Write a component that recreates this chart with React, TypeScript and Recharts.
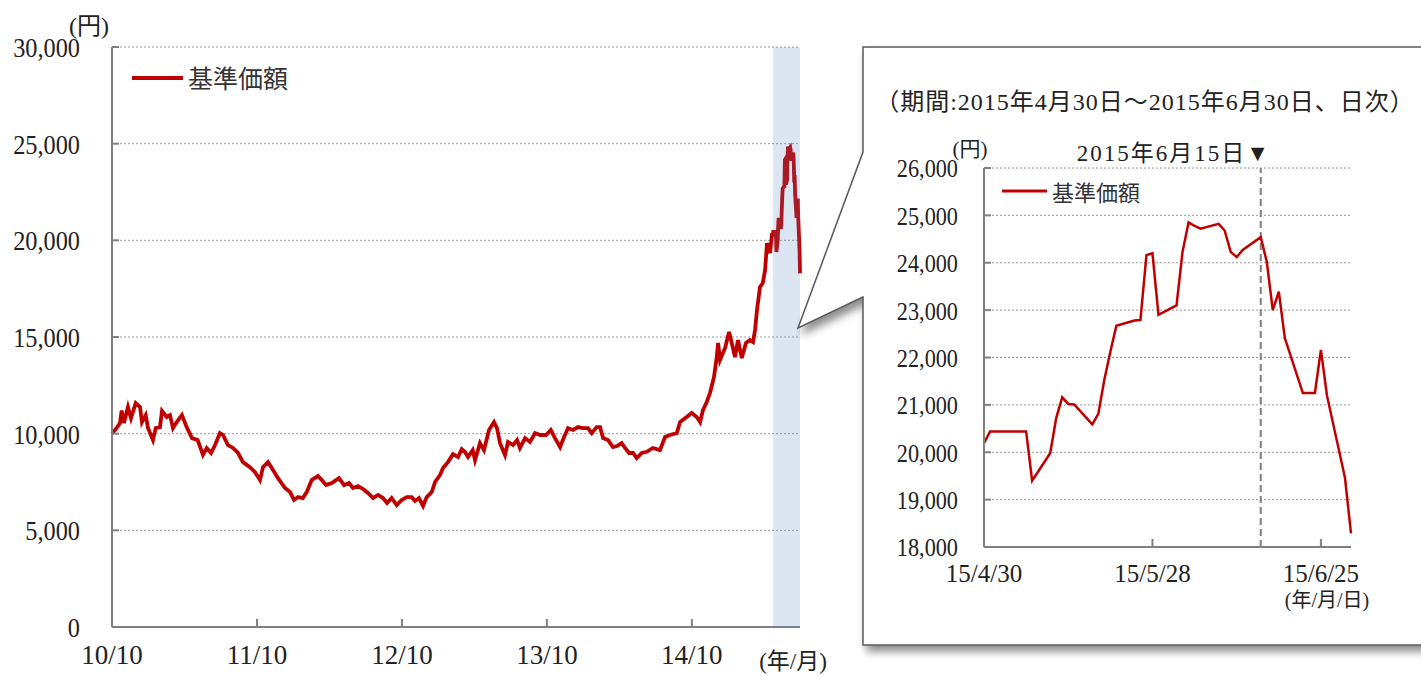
import React from 'react';
import {
  LineChart,
  Line,
  XAxis,
  YAxis,
  CartesianGrid,
  ReferenceArea,
  ReferenceLine,
  Legend,
} from 'recharts';

const SERIES_NAME = '基準価額';

// ---------- main chart (2010/10 - 2015/6), x = months since 2010/10 ----------
const mainTickMonths = [0, 12, 24, 36, 48];
const mainTickLabels = ['10/10', '11/10', '12/10', '13/10', '14/10'];
const mainYTicks = [0, 5000, 10000, 15000, 20000, 25000, 30000];

const mainMonths = [
  0, 0.39, 0.66, 0.8, 0.99, 1.32, 1.57, 1.96, 2.32, 2.48, 2.79, 2.98, 3.39, 3.62, 3.97, 4.14,
  4.53, 4.8, 5.05, 5.36, 5.79, 6.18, 6.62, 7.09, 7.53, 7.84, 8.2, 8.53, 8.94, 9.19, 9.6, 10.02,
  10.43, 10.84, 11.42, 11.84, 12.25, 12.5, 12.91, 13.33, 13.74, 14.32, 14.74, 15.07, 15.4, 15.79,
  16.12, 16.53, 17.05, 17.36, 17.72, 18.19, 18.79, 19.21, 19.62, 19.95, 20.36, 20.78, 21.19,
  21.61, 22.02, 22.43, 22.77, 23.15, 23.57, 23.98, 24.4, 24.81, 25.08, 25.41, 25.75, 26.05,
  26.47, 26.74, 27.15, 27.4, 27.81, 28.23, 28.64, 28.95, 29.22, 29.47, 29.86, 30.05, 30.46,
  30.79, 31.21, 31.62, 31.87, 32.12, 32.53, 32.78, 33.2, 33.53, 33.77, 34.19, 34.6, 35.02,
  35.43, 35.93, 36.32, 36.67, 37.09, 37.42, 37.75, 38.16, 38.58, 38.99, 39.4, 39.71, 40.12,
  40.4, 40.65, 41.06, 41.47, 41.8, 42.19, 42.47, 42.8, 43.13, 43.43, 43.85, 44.26, 44.78,
  45.36, 45.78, 46.19, 46.75, 47.02, 47.57, 47.99, 48.4, 48.68, 48.92, 49.23, 49.5, 49.83,
  50.06, 50.17, 50.33, 50.75, 51.08, 51.38, 51.57, 51.82, 52.13, 52.48, 52.81, 53.06, 53.23,
  53.39, 53.64, 53.87, 54.06, 54.22, 54.47, 54.64,
];
const mainValues = [
  10000, 10300, 10550, 11200, 10550, 11380, 10800, 11580, 11380, 10600, 10960, 10290, 9670,
  10290, 10340, 11170, 10860, 10960, 10290, 10600, 10960, 10340, 9770, 9670, 8900, 9260, 9000,
  9410, 10030, 9930, 9410, 9260, 9000, 8530, 8270, 8010, 7600, 8270, 8530, 8120, 7700, 7190,
  6980, 6570, 6720, 6670, 6980, 7600, 7810, 7600, 7340, 7450, 7700, 7340, 7450, 7190, 7290,
  7140, 6930, 6670, 6830, 6670, 6410, 6670, 6310, 6570, 6720, 6720, 6520, 6670, 6260, 6720,
  6980, 7500, 7860, 8220, 8530, 8940, 8790, 9200, 9050, 8790, 9150, 8630, 9510, 9150, 10190,
  10600, 10290, 9510, 8890, 9570, 9410, 9670, 9260, 9770, 9570, 10030, 9930, 9930, 10190, 9770,
  9310, 9830, 10290, 10190, 10340, 10290, 10290, 10030, 10340, 10340, 9770, 9670, 9310, 9360,
  9510, 9260, 9000, 9000, 8740, 9000, 9060, 9260, 9150, 9830, 9930, 10030, 10600, 10860, 11070,
  10860, 10600, 11220, 11640, 12100, 12930, 13960, 14690, 13810, 14430, 15260, 14480, 13960,
  14840, 13910, 14690, 14840, 14740, 15360, 16400, 17590, 17790, 18460, 19860, 19340, 20370,
];

// highlighted period (2015/4/30 - 2015/6/30) in months since 2010/10
const periodStartMonth = 54.7;
const periodEndMonth = 56.95;

// ---------- inset chart (daily), x = calendar days since 2015/4/30 ----------
const insetSpanDays = 61;
const insetDays = [
  0, 1, 7, 8, 11, 12, 13, 14, 15, 18, 19, 20, 21, 22, 25, 26, 27, 28, 29, 32, 33, 34, 35, 36,
  39, 40, 41, 42, 43, 46, 47, 48, 49, 50, 53, 54, 55, 56, 57, 60, 61,
];
const insetValues = [
  20190, 20440, 20440, 19400, 19980, 20720, 21160, 21020, 21010, 20590, 20810, 21530, 22120,
  22670, 22780, 22790, 24160, 24200, 22900, 23100, 24230, 24850, 24780, 24720, 24820, 24680,
  24230, 24120, 24270, 24540, 24020, 23000, 23390, 22410, 21250, 21250, 21250, 22160, 21200,
  19460, 18290,
];
const insetTickDays = [0, 28, 56];
const insetTickLabels = ['15/4/30', '15/5/28', '15/6/25'];
const insetYTicks = [18000, 19000, 20000, 21000, 22000, 23000, 24000, 25000, 26000];
const insetMarkerDay = 46;

// ---------- derived tables ----------
const mainData = mainMonths
  .map((m, i) => ({ m, v: mainValues[i] }))
  .concat(
    insetDays.map((d, i) => ({
      m: periodStartMonth + (d * (periodEndMonth - periodStartMonth)) / insetSpanDays,
      v: insetValues[i],
    }))
  );
const insetData = insetDays.map((d, i) => ({ d, v: insetValues[i] }));

// ---------- styles ----------
const RED = '#C00000';
const AXIS = '#808080';
const GRID = '#9a9a9a';
const TEXT = '#222222';
const FONT = "'Liberation Serif', 'Noto Sans CJK JP', serif";
const CJK = "'Noto Sans CJK JP', sans-serif";

function makeYTick(offset: number, fontSize: number, sx: number, skip: number) {
  return (props: any) => {
    const { x, y, payload } = props;
    const label = Number(payload.value).toLocaleString('en-US');
    return (
      <g>
        {payload.value !== skip && (
          <line x1={x} x2={x + 7} y1={y} y2={y} stroke={AXIS} strokeWidth={2} />
        )}
        <text
          transform={`translate(${x - offset},${y + 1}) scale(${sx},1)`}
          textAnchor="end"
          dominantBaseline="central"
          fontSize={fontSize}
          fontFamily={FONT}
          fill={TEXT}
        >
          {label}
        </text>
      </g>
    );
  };
}

function makeXTick(ticks: number[], labels: string[], fontSize: number, dy: number) {
  return (props: any) => {
    const { x, y, payload } = props;
    const idx = ticks.indexOf(payload.value);
    return (
      <g>
        {payload.value !== ticks[0] && (
          <line x1={x} x2={x} y1={y} y2={y - 8} stroke={AXIS} strokeWidth={2} />
        )}
        <text x={x} y={y + dy} textAnchor="middle" fontSize={fontSize} fontFamily={FONT} fill={TEXT}>
          {idx >= 0 ? labels[idx] : ''}
        </text>
      </g>
    );
  };
}

function makeLegend(lineW: number, strokeW: number, fontSize: number) {
  return (props: any) => {
    const item = (props.payload && props.payload[0]) || { value: SERIES_NAME, color: RED };
    return (
      <div style={{ display: 'flex', alignItems: 'center', whiteSpace: 'nowrap' }}>
        <svg width={lineW} height={8} style={{ display: 'block' }}>
          <line x1={0} x2={lineW} y1={4} y2={4} stroke={item.color || RED} strokeWidth={strokeW} />
        </svg>
        <span style={{ fontFamily: CJK, fontSize, color: '#333', marginLeft: 5, lineHeight: 1 }}>
          {item.value}
        </span>
      </div>
    );
  };
}

const MainYTick = makeYTick(32, 27, 0.9, 0);
const MainXTick = makeXTick(mainTickMonths, mainTickLabels, 27, 37);
const InsetYTick = makeYTick(26, 25, 0.89, 18000);
const InsetXTick = makeXTick(insetTickDays, insetTickLabels, 25, 35);

export default function App() {
  return (
    <div
      style={{
        position: 'absolute',
        left: 0,
        top: 0,
        width: 1421,
        height: 676,
        background: '#ffffff',
        overflow: 'hidden',
      }}
    >
      {/* main chart */}
      <div style={{ position: 'absolute', left: 0, top: 0 }}>
        <LineChart
          width={860}
          height={676}
          data={mainData}
          margin={{ top: 47, right: 60, bottom: 0, left: 0 }}
        >
          <CartesianGrid vertical={false} stroke={GRID} strokeDasharray="2 2" />
          <XAxis
            type="number"
            dataKey="m"
            domain={[0, periodEndMonth]}
            ticks={mainTickMonths}
            height={49}
            tickSize={0}
            tickMargin={0}
            tickLine={false}
            tick={MainXTick}
            axisLine={{ stroke: AXIS, strokeWidth: 2 }}
            interval={0}
          />
          <YAxis
            type="number"
            domain={[0, 30000]}
            ticks={mainYTicks}
            width={112}
            tickSize={0}
            tickMargin={0}
            tickLine={false}
            tick={MainYTick}
            axisLine={{ stroke: AXIS, strokeWidth: 2 }}
            interval={0}
          />
          <Line
            type="linear"
            dataKey="v"
            name={SERIES_NAME}
            stroke={RED}
            strokeWidth={3.8}
            dot={false}
            isAnimationActive={false}
          />
          <ReferenceArea
            x1={periodStartMonth}
            x2={periodEndMonth}
            fill="#4F81BD"
            fillOpacity={0.2}
            stroke="none"
            ifOverflow="visible"
            {...({ zIndex: 900 } as any)}
          />
          <Legend
            verticalAlign="middle"
            align="center"
            content={makeLegend(51, 4, 25)}
            wrapperStyle={{ position: 'absolute', left: 132, top: 65, width: 'auto' }}
          />
        </LineChart>
      </div>

      {/* callout box */}
      <svg
        width={1421}
        height={676}
        style={{ position: 'absolute', left: 0, top: 0, pointerEvents: 'none' }}
      >
        <defs>
          <filter id="calloutShadow" x="-20%" y="-20%" width="140%" height="140%">
            <feGaussianBlur in="SourceAlpha" stdDeviation="4" />
            <feOffset dx="4" dy="6" result="off" />
            <feComponentTransfer>
              <feFuncA type="linear" slope="0.45" />
            </feComponentTransfer>
            <feMerge>
              <feMergeNode />
              <feMergeNode in="SourceGraphic" />
            </feMerge>
          </filter>
        </defs>
        <path
          d="M1440,47 L863,47 L863,152 L798,328 L863,297 L863,645 L1440,645 Z"
          fill="#ffffff"
          stroke="#595959"
          strokeWidth={1.5}
          strokeLinejoin="miter"
          filter="url(#calloutShadow)"
        />
      </svg>

      {/* inset chart */}
      <div style={{ position: 'absolute', left: 863, top: 47 }}>
        <LineChart
          width={558}
          height={598}
          data={insetData}
          margin={{ top: 121, right: 70, bottom: 0, left: 0 }}
        >
          <CartesianGrid vertical={false} stroke={GRID} strokeDasharray="2 2" />
          <XAxis
            type="number"
            dataKey="d"
            domain={[0, insetSpanDays]}
            ticks={insetTickDays}
            height={98}
            tickSize={0}
            tickMargin={0}
            tickLine={false}
            tick={InsetXTick}
            axisLine={{ stroke: AXIS, strokeWidth: 2 }}
            interval={0}
          />
          <YAxis
            type="number"
            domain={[18000, 26000]}
            ticks={insetYTicks}
            width={121}
            tickSize={0}
            tickMargin={0}
            tickLine={false}
            tick={InsetYTick}
            axisLine={{ stroke: AXIS, strokeWidth: 2 }}
            interval={0}
          />
          <ReferenceLine
            x={insetMarkerDay}
            stroke="#7f7f7f"
            strokeWidth={2}
            strokeDasharray="7 4"
            ifOverflow="visible"
          />
          <Line
            type="linear"
            dataKey="v"
            name={SERIES_NAME}
            stroke={RED}
            strokeWidth={2.5}
            dot={false}
            isAnimationActive={false}
          />
          <Legend
            verticalAlign="middle"
            align="center"
            content={makeLegend(45, 3, 22)}
            wrapperStyle={{ position: 'absolute', left: 139, top: 133, width: 'auto' }}
          />
        </LineChart>
      </div>

      {/* annotations */}
      <svg
        width={1421}
        height={676}
        style={{ position: 'absolute', left: 0, top: 0, pointerEvents: 'none' }}
      >
        <text x={89} y={34} textAnchor="middle" fontSize={24} fontFamily={FONT} fill={TEXT}>
          (円)
        </text>
        <text x={793} y={669} textAnchor="middle" fontSize={23} fontFamily={FONT} fill={TEXT}>
          (年/月)
        </text>
        <text
          x={1145}
          y={110}
          textAnchor="middle"
          fontSize={24}
          letterSpacing={1}
          fontFamily={FONT}
          fill={TEXT}
        >
          （期間:2015年4月30日～2015年6月30日、日次）
        </text>
        <text x={970} y={156} textAnchor="middle" fontSize={21} fontFamily={FONT} fill={TEXT}>
          (円)
        </text>
        <text
          x={1271}
          y={161}
          textAnchor="end"
          fontSize={23}
          letterSpacing={2}
          fontFamily={FONT}
          fill={TEXT}
        >
          2015年6月15日▼
        </text>
        <text x={1327} y={607} textAnchor="middle" fontSize={20} fontFamily={FONT} fill={TEXT}>
          (年/月/日)
        </text>
      </svg>
    </div>
  );
}
